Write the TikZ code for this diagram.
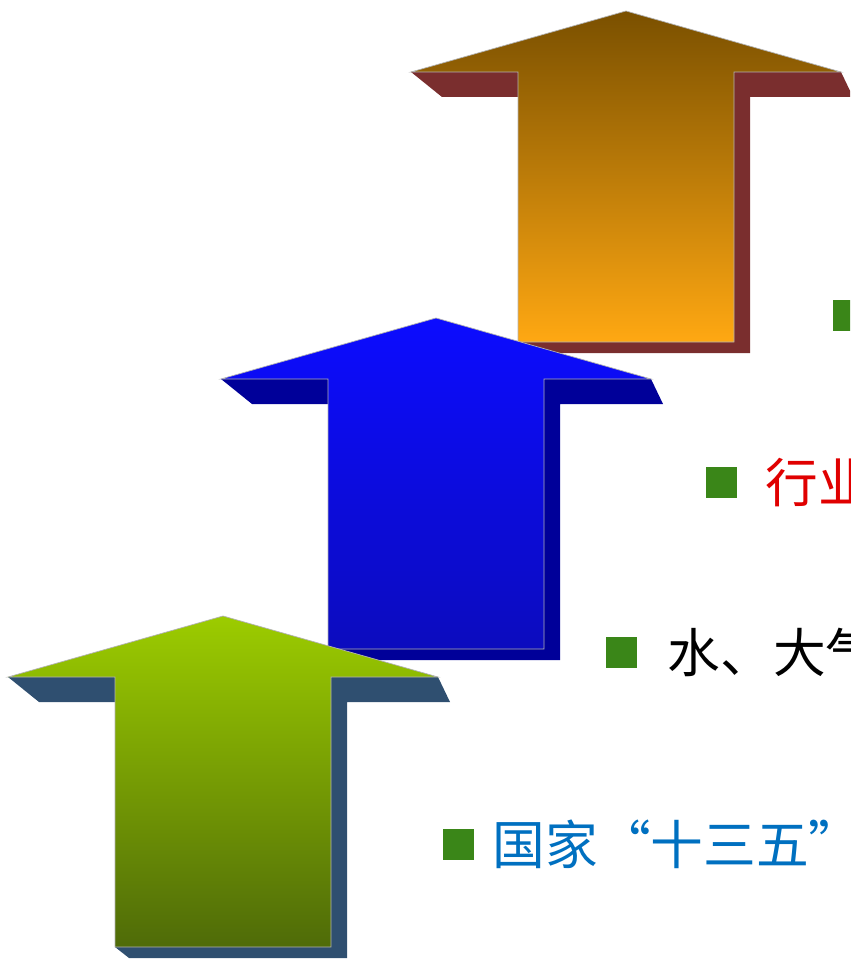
\documentclass[tikz,border=0pt]{standalone}
\usepackage{fontspec}
\newfontfamily\cjk{Noto Sans CJK SC}
\usepackage{tikz}
\usetikzlibrary{positioning}
\definecolor{orgtop}{HTML}{7A5000}
\definecolor{orgbot}{HTML}{FFA812}
\definecolor{orgshd}{HTML}{7A2E2E}
\definecolor{blutop}{HTML}{0C0CFF}
\definecolor{blubot}{HTML}{0C0CBE}
\definecolor{blushd}{HTML}{000099}
\definecolor{grntop}{HTML}{9CCC00}
\definecolor{grnbot}{HTML}{4F6B08}
\definecolor{grnshd}{HTML}{2F4F70}
\definecolor{bulgreen}{HTML}{3A8618}
\definecolor{txtred}{HTML}{E00000}
\definecolor{txtblue}{HTML}{0070C0}

\begin{document}
\begin{tikzpicture}[x=0.02cm,y=-0.02cm]
      \tikzstyle{bul}=[rectangle,fill=bulgreen,minimum size=0.62cm,inner sep=0pt]
      \tikzstyle{txt}=[font=\cjk\fontsize{30}{32}\selectfont,inner sep=0pt]
      \useasboundingbox (0,0) rectangle (850,959);
      \clip (0,0) rectangle (850,959);
      % arrows, back to front
      \foreach \tx/\ty/\ctop/\cbot/\cshd in {626/11/orgtop/orgbot/orgshd,436/318/blutop/blubot/blushd,223/616/grntop/grnbot/grnshd}{
        \begin{scope}[shift={(\tx,\ty)}]
          \fill[\cshd] (-215,61) -- (-184,86) -- (-108,86) -- (-108,331) -- (-94,342) -- (124,342) -- (124,86) -- (227,86) -- (215,61) -- cycle;
          \shade[top color=\ctop,bottom color=\cbot,draw=black!30,line width=0.4pt] (0,0) -- (-215,61) -- (-108,61) -- (-108,331) -- (108,331) -- (108,61) -- (215,61) -- cycle;
        \end{scope}
      }
      \node[bul] (b1) at (848.5,315.5) {};
      \node[bul] (b2) at (721.5,482.5) {};
      \node[bul] (b3) at (621.5,652.5) {};
      \node[bul] (b4) at (458.5,844) {};
      \node[txt,text=txtred,right=0.56cm of b2] (t2) {行业};
      \node[txt,text=black,right=0.6cm of b3] (t3) {水、大气};
      \node[txt,text=txtblue,right=0.36cm of b4] (t4) {国家“十三五”};
    \end{tikzpicture}
\end{document}
